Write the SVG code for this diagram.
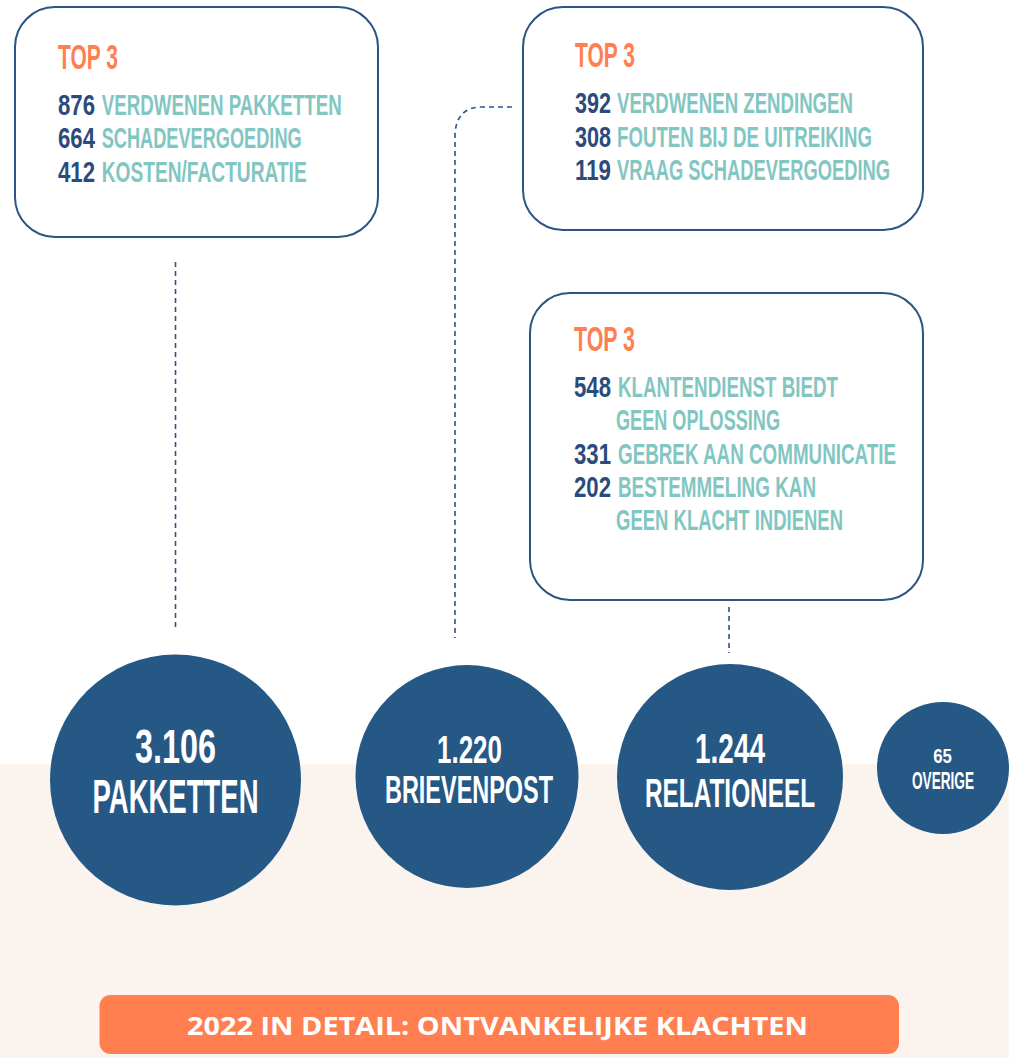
<svg xmlns="http://www.w3.org/2000/svg" width="1009" height="1058" viewBox="0 0 1009 1058">
<style>
.box{fill:#fff;stroke:#2c5485;stroke-width:2}
.c{font-family:"Liberation Sans",Arial,sans-serif;font-weight:bold}
.top{fill:#ff7f50;font-size:21.8px}
.num{fill:#2a4b7c;font-size:18.3px}
.lab{fill:#82c6c2;font-size:18.3px}
.circ{fill:#265885}
.ct{fill:#fff;text-anchor:middle}
.conn{fill:none;stroke:#2c5485;stroke-width:1.6;stroke-dasharray:5 4}
.ban{font-family:"Open Sans","Liberation Sans",sans-serif;font-weight:bold;font-size:25px;fill:#fff;text-anchor:middle}
</style>
<rect x="0" y="764" width="1009" height="294" fill="#faf3ee"/>
<g id="connectors">
<line class="conn" x1="175.5" y1="262" x2="175.5" y2="628"/>
<path class="conn" d="M512,107 H482 Q456,107 455,135 V638"/>
<line class="conn" x1="729" y1="607" x2="729" y2="653"/>
</g>
<g id="box-pakketten">
<rect class="box" x="15" y="7" width="363" height="230" rx="40"/>
<text class="c top" transform="translate(58,69) scale(1,1.6)" textLength="60" lengthAdjust="spacingAndGlyphs">TOP 3</text>
<text class="c num" transform="translate(58,115) scale(1,1.6)" textLength="37" lengthAdjust="spacingAndGlyphs">876</text>
<text class="c lab" transform="translate(101.7,115) scale(1,1.6)" textLength="240" lengthAdjust="spacingAndGlyphs">VERDWENEN PAKKETTEN</text>
<text class="c num" transform="translate(58,147.5) scale(1,1.6)" textLength="37" lengthAdjust="spacingAndGlyphs">664</text>
<text class="c lab" transform="translate(101.7,147.5) scale(1,1.6)" textLength="200" lengthAdjust="spacingAndGlyphs">SCHADEVERGOEDING</text>
<text class="c num" transform="translate(58,181.5) scale(1,1.6)" textLength="37" lengthAdjust="spacingAndGlyphs">412</text>
<text class="c lab" transform="translate(101.7,181.5) scale(1,1.6)" textLength="205" lengthAdjust="spacingAndGlyphs">KOSTEN/FACTURATIE</text>
</g>
<g id="box-brievenpost">
<rect class="box" x="523" y="7" width="400" height="223" rx="40"/>
<text class="c top" transform="translate(575,67) scale(1,1.6)" textLength="60" lengthAdjust="spacingAndGlyphs">TOP 3</text>
<text class="c num" transform="translate(575,113) scale(1,1.6)" textLength="36" lengthAdjust="spacingAndGlyphs">392</text>
<text class="c lab" transform="translate(617,113) scale(1,1.6)" textLength="236" lengthAdjust="spacingAndGlyphs">VERDWENEN ZENDINGEN</text>
<text class="c num" transform="translate(575,146.5) scale(1,1.6)" textLength="36" lengthAdjust="spacingAndGlyphs">308</text>
<text class="c lab" transform="translate(617,146.5) scale(1,1.6)" textLength="255" lengthAdjust="spacingAndGlyphs">FOUTEN BIJ DE UITREIKING</text>
<text class="c num" transform="translate(575,180) scale(1,1.6)" textLength="36" lengthAdjust="spacingAndGlyphs">119</text>
<text class="c lab" transform="translate(617,180) scale(1,1.6)" textLength="273" lengthAdjust="spacingAndGlyphs">VRAAG SCHADEVERGOEDING</text>
</g>
<g id="box-relationeel">
<rect class="box" x="530" y="293" width="393" height="307" rx="40"/>
<text class="c top" transform="translate(574,351) scale(1,1.6)" textLength="61" lengthAdjust="spacingAndGlyphs">TOP 3</text>
<text class="c num" transform="translate(574,396.5) scale(1,1.6)" textLength="37" lengthAdjust="spacingAndGlyphs">548</text>
<text class="c lab" transform="translate(618,396.5) scale(1,1.6)" textLength="220" lengthAdjust="spacingAndGlyphs">KLANTENDIENST BIEDT</text>
<text class="c lab" transform="translate(616,430) scale(1,1.6)" textLength="164" lengthAdjust="spacingAndGlyphs">GEEN OPLOSSING</text>
<text class="c num" transform="translate(574,463.5) scale(1,1.6)" textLength="37" lengthAdjust="spacingAndGlyphs">331</text>
<text class="c lab" transform="translate(618,463.5) scale(1,1.6)" textLength="278" lengthAdjust="spacingAndGlyphs">GEBREK AAN COMMUNICATIE</text>
<text class="c num" transform="translate(574,497) scale(1,1.6)" textLength="37" lengthAdjust="spacingAndGlyphs">202</text>
<text class="c lab" transform="translate(618,497) scale(1,1.6)" textLength="198" lengthAdjust="spacingAndGlyphs">BESTEMMELING KAN</text>
<text class="c lab" transform="translate(616,530) scale(1,1.6)" textLength="227" lengthAdjust="spacingAndGlyphs">GEEN KLACHT INDIENEN</text>
</g>
<g id="circle-pakketten">
<circle class="circ" cx="175.5" cy="780" r="125.5"/>
<text class="c ct" transform="translate(175.5,763) scale(1,1.6)" font-size="30.5" textLength="81" lengthAdjust="spacingAndGlyphs">3.106</text>
<text class="c ct" transform="translate(175.5,812.5) scale(1,1.6)" font-size="29.7" textLength="166" lengthAdjust="spacingAndGlyphs">PAKKETTEN</text>
</g>
<g id="circle-brievenpost">
<circle class="circ" cx="467" cy="776.5" r="111.5"/>
<text class="c ct" transform="translate(469.5,762.7) scale(1,1.6)" font-size="24.4" textLength="65" lengthAdjust="spacingAndGlyphs">1.220</text>
<text class="c ct" transform="translate(469,803) scale(1,1.6)" font-size="24.4" textLength="168" lengthAdjust="spacingAndGlyphs">BRIEVENPOST</text>
</g>
<g id="circle-relationeel">
<circle class="circ" cx="730" cy="777" r="113"/>
<text class="c ct" transform="translate(730,762.7) scale(1,1.6)" font-size="27" textLength="70" lengthAdjust="spacingAndGlyphs">1.244</text>
<text class="c ct" transform="translate(730,806.5) scale(1,1.6)" font-size="25.3" textLength="170" lengthAdjust="spacingAndGlyphs">RELATIONEEL</text>
</g>
<g id="circle-overige">
<circle class="circ" cx="943" cy="768" r="66"/>
<text class="c ct" transform="translate(942.5,763) scale(1,1.6)" font-size="13" textLength="18.7" lengthAdjust="spacingAndGlyphs">65</text>
<text class="c ct" transform="translate(943,789) scale(1,1.6)" font-size="14.8" textLength="62" lengthAdjust="spacingAndGlyphs">OVERIGE</text>
</g>
<g id="banner">
<rect x="99.5" y="995" width="799.5" height="59" rx="11" fill="#ff7f50"/>
<text class="ban" x="497.5" y="1035" textLength="621" lengthAdjust="spacingAndGlyphs">2022 IN DETAIL: ONTVANKELIJKE KLACHTEN</text>
</g>
</svg>
